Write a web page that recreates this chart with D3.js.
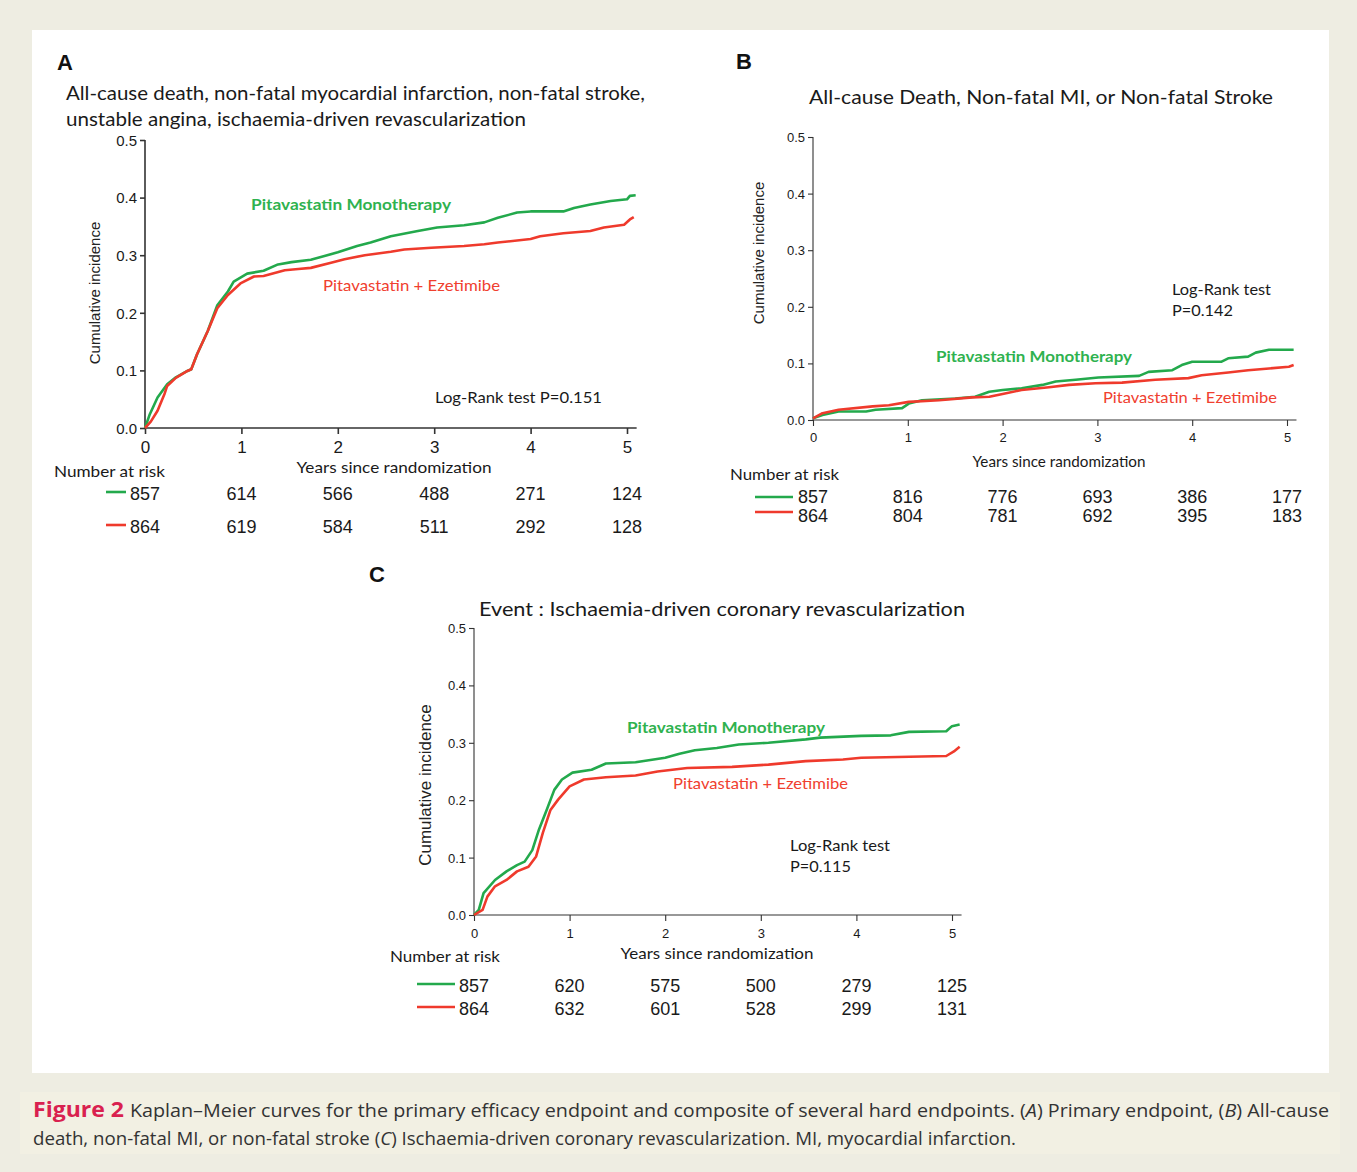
<!DOCTYPE html>
<html><head><meta charset="utf-8">
<script src="https://cdn.jsdelivr.net/npm/d3@7"></script>
<style>
html,body{margin:0;padding:0;background:#eeede2;}
svg{display:block;}
</style></head>
<body>
<svg id="fig" width="1357" height="1172"></svg>
<script>
// ---------------- DATA ----------------
const yearTicks = [0, 1, 2, 3, 4, 5];
const incidenceTicks = [0.0, 0.1, 0.2, 0.3, 0.4, 0.5];
const groupNames = ["Pitavastatin Monotherapy", "Pitavastatin + Ezetimibe"];

// Panel A: [years, cumulative incidence]
const monoA = [[0,0],[0.05,0.024],[0.13,0.053],[0.23,0.076],[0.32,0.088],[0.44,0.099],[0.48,0.102],[0.54,0.128],[0.65,0.168],[0.75,0.213],[0.86,0.237],[0.92,0.254],[1.06,0.268],[1.23,0.273],[1.38,0.284],[1.52,0.288],[1.72,0.292],[2.0,0.305],[2.2,0.316],[2.34,0.322],[2.55,0.333],[2.83,0.342],[3.03,0.348],[3.31,0.352],[3.52,0.357],[3.66,0.365],[3.86,0.374],[4.0,0.376],[4.34,0.376],[4.45,0.382],[4.62,0.388],[4.83,0.394],[5.0,0.397],[5.03,0.403],[5.09,0.404]];
const ezeA = [[0,0],[0.06,0.011],[0.13,0.03],[0.2,0.058],[0.23,0.073],[0.32,0.087],[0.44,0.099],[0.48,0.102],[0.54,0.128],[0.65,0.168],[0.75,0.208],[0.86,0.231],[0.99,0.251],[1.13,0.263],[1.23,0.264],[1.45,0.274],[1.59,0.276],[1.72,0.278],[1.93,0.287],[2.07,0.293],[2.28,0.3],[2.55,0.306],[2.69,0.31],[2.97,0.313],[3.31,0.316],[3.52,0.319],[3.66,0.322],[4.0,0.328],[4.1,0.333],[4.34,0.338],[4.62,0.342],[4.76,0.348],[4.97,0.353],[5.03,0.362],[5.07,0.366]];
const riskMonoA = [857, 614, 566, 488, 271, 124];
const riskEzeA = [864, 619, 584, 511, 292, 128];

// Panel B
const monoB = [[0,0.003],[0.1,0.009],[0.27,0.015],[0.56,0.015],[0.66,0.018],[0.94,0.021],[1.01,0.029],[1.15,0.035],[1.5,0.038],[1.71,0.041],[1.86,0.05],[2.0,0.053],[2.2,0.056],[2.42,0.062],[2.56,0.068],[2.77,0.071],[3.01,0.075],[3.44,0.078],[3.54,0.085],[3.79,0.088],[3.89,0.097],[4.0,0.103],[4.31,0.103],[4.38,0.109],[4.59,0.112],[4.67,0.119],[4.81,0.124],[5.07,0.124]];
const ezeB = [[0,0.003],[0.1,0.012],[0.27,0.018],[0.63,0.024],[0.8,0.026],[1.01,0.032],[1.33,0.035],[1.68,0.04],[1.86,0.041],[2.0,0.046],[2.2,0.053],[2.49,0.058],[2.7,0.062],[2.98,0.065],[3.26,0.066],[3.61,0.071],[3.96,0.074],[4.1,0.079],[4.38,0.084],[4.59,0.088],[4.81,0.091],[5.02,0.094],[5.07,0.097]];
const riskMonoB = [857, 816, 776, 693, 386, 177];
const riskEzeB = [864, 804, 781, 692, 395, 183];

// Panel C
const monoC = [[0,0],[0.05,0.009],[0.1,0.038],[0.22,0.061],[0.34,0.076],[0.45,0.087],[0.53,0.093],[0.61,0.113],[0.68,0.149],[0.76,0.183],[0.84,0.218],[0.92,0.236],[1.03,0.248],[1.23,0.253],[1.38,0.264],[1.69,0.266],[2.0,0.274],[2.15,0.281],[2.31,0.287],[2.54,0.291],[2.77,0.297],[3.08,0.3],[3.47,0.306],[3.62,0.309],[4.05,0.312],[4.36,0.313],[4.55,0.319],[4.94,0.32],[5.0,0.329],[5.08,0.332]];
const ezeC = [[0,0],[0.09,0.009],[0.14,0.032],[0.22,0.05],[0.34,0.061],[0.45,0.076],[0.57,0.084],[0.65,0.102],[0.72,0.143],[0.8,0.183],[0.88,0.201],[1.0,0.224],[1.15,0.236],[1.38,0.24],[1.69,0.243],[1.92,0.25],[2.23,0.256],[2.7,0.258],[3.08,0.262],[3.47,0.268],[3.86,0.271],[4.05,0.274],[4.94,0.277],[5.02,0.285],[5.08,0.293]];
const riskMonoC = [857, 620, 575, 500, 279, 125];
const riskEzeC = [864, 632, 601, 528, 299, 131];

// ---------------- DRAWING ----------------
const GREEN = "#23a94c", RED = "#ef3a2c", GREEN_T = "#2fb24f", RED_T = "#f0402f";
const calibri = "Lato, 'Open Sans', sans-serif";
const arial = "'Liberation Sans', Arial, sans-serif";
const svg = d3.select("#fig");

svg.append("rect").attr("x",0).attr("y",0).attr("width",1357).attr("height",1172).attr("fill","#eeede2");
svg.append("rect").attr("x",32).attr("y",30).attr("width",1297).attr("height",1043).attr("fill","#ffffff");
svg.append("rect").attr("x",20).attr("y",1092).attr("width",1320).attr("height",62).attr("fill","#f2f0e3");

function txt(g, x, y, s, o) {
  o = o || {};
  const t = g.append("text").attr("x", x).attr("y", y).text(s)
    .attr("font-family", o.family || calibri).attr("font-size", o.size || 16)
    .attr("fill", o.fill || "#1a1a1a").attr("text-anchor", o.anchor || "start");
  if (o.weight) t.attr("font-weight", o.weight);
  if (o.len) t.attr("textLength", o.len).attr("lengthAdjust", "spacingAndGlyphs");
  return t;
}

function panel(c) {
  const g = svg.append("g");
  const x = d3.scaleLinear().domain([0, 5]).range([c.x0, c.x5]);
  const y = d3.scaleLinear().domain([0, 0.5]).range([c.y0, c.y5]);
  const xEnd = x(5.1);
  // axes
  const ya = g.append("g").attr("transform", `translate(${c.x0},0)`)
    .call(d3.axisLeft(y).tickValues(incidenceTicks).tickFormat(d3.format(".1f")).tickSize(5).tickSizeOuter(0));
  const xa = g.append("g").attr("transform", `translate(0,${c.y0})`)
    .call(d3.axisBottom(x).tickValues(yearTicks).tickFormat(d3.format("d")).tickSize(6).tickSizeOuter(0));
  [ya, xa].forEach(a => {
    a.select(".domain").attr("stroke", "#333").attr("stroke-width", c.aw);
    a.selectAll(".tick line").attr("stroke", "#333").attr("stroke-width", c.aw);
    a.selectAll("text").attr("font-family", arial).attr("fill", "#1a1a1a");
  });
  ya.select(".domain").attr("d", `M0,${c.y0}V${c.y5}`);
  xa.select(".domain").attr("d", `M${c.x0},0H${xEnd}`);
  ya.selectAll("text").attr("font-size", c.ytSize).attr("x", -8).attr("dy", "0.35em");
  xa.selectAll("text").attr("font-size", c.xtSize).attr("y", c.xtDy).attr("dy", "0.71em");

  // curves
  const line = d3.line().x(d => x(d[0])).y(d => y(d[1])).curve(d3.curveLinear);
  g.append("path").datum(c.mono).attr("d", line).attr("fill", "none").attr("stroke", GREEN).attr("stroke-width", 2.6).attr("stroke-linejoin","round");
  g.append("path").datum(c.eze).attr("d", line).attr("fill", "none").attr("stroke", RED).attr("stroke-width", 2.6).attr("stroke-linejoin","round");

  // labels
  txt(g, c.letter[0], c.letter[1], c.name, {family: arial, size: 22, weight: "bold", fill: "#111"});
  c.title.forEach(t => txt(g, t[0], t[1], t[2], {size: c.titleSize, len: t[3], fill: "#1a1a1a"}));
  g.append("text").attr("transform", `translate(${c.ylab[0]},${c.ylab[1]}) rotate(-90)`)
    .attr("text-anchor", "middle").attr("font-family", arial).attr("font-size", c.ylab[2]).attr("fill", "#222").text("Cumulative incidence");
  txt(g, c.xlab[0], c.xlab[1], "Years since randomization", {anchor: "middle", size: c.xlab[2], len: c.xlab[3]});
  txt(g, c.monoLab[0], c.monoLab[1], groupNames[0], {size: c.labSize, weight: "bold", fill: GREEN_T, len: c.monoLab[2]});
  txt(g, c.ezeLab[0], c.ezeLab[1], groupNames[1], {size: c.labSize, fill: RED_T, len: c.ezeLab[2]});
  c.lr.forEach(t => txt(g, t[0], t[1], t[2], {size: c.lrSize, len: t[3]}));

  // number at risk
  txt(g, c.nar[0], c.nar[1], "Number at risk", {size: c.nar[2], len: c.nar[3]});
  [[c.riskMono, GREEN, c.rowY[0], c.legY[0]], [c.riskEze, RED, c.rowY[1], c.legY[1]]].forEach(r => {
    g.append("line").attr("x1", c.legX[0]).attr("x2", c.legX[1]).attr("y1", r[3]).attr("y2", r[3]).attr("stroke", r[1]).attr("stroke-width", 2.6);
    g.selectAll(null).data(r[0]).enter().append("text")
      .attr("x", (d, i) => x(yearTicks[i])).attr("y", r[2])
      .attr("text-anchor", "middle").attr("font-family", arial).attr("font-size", c.riskSize).attr("fill", "#1a1a1a")
      .text(d => d);
  });
}

panel({
  name: "A", letter: [57, 70], x0: 145, x5: 627, y0: 428, y5: 140, aw: 1.6,
  ytSize: 15, xtSize: 17, xtDy: 13,
  mono: monoA, eze: ezeA, riskMono: riskMonoA, riskEze: riskEzeA,
  title: [[66, 100, "All-cause death, non-fatal myocardial infarction, non-fatal stroke,", 579], [66, 126, "unstable angina, ischaemia-driven revascularization", 460]],
  titleSize: 19,
  ylab: [100, 293, 15], xlab: [394, 473, 16, 195],
  monoLab: [251, 210, 200], ezeLab: [323, 291, 177], labSize: 16,
  lr: [[435, 403, "Log-Rank test P=0.151", 167]], lrSize: 16,
  nar: [54, 477, 16, 111], legX: [106, 126], legY: [492, 525], rowY: [500, 533], riskSize: 18
});

panel({
  name: "B", letter: [736, 69], x0: 813, x5: 1287, y0: 420, y5: 137, aw: 1.1,
  ytSize: 13, xtSize: 13, xtDy: 13,
  mono: monoB, eze: ezeB, riskMono: riskMonoB, riskEze: riskEzeB,
  title: [[809, 104, "All-cause Death, Non-fatal MI, or Non-fatal Stroke", 464]],
  titleSize: 20,
  ylab: [764, 253, 15], xlab: [1059, 467, 15, 173],
  monoLab: [936, 362, 196], ezeLab: [1103, 403, 174], labSize: 16,
  lr: [[1172, 295, "Log-Rank test", 99], [1172, 316, "P=0.142", 61]], lrSize: 16,
  nar: [730, 480, 16, 109], legX: [755, 793], legY: [497, 512], rowY: [503, 522], riskSize: 18
});

panel({
  name: "C", letter: [369, 582], x0: 474, x5: 952, y0: 915, y5: 628, aw: 1.1,
  ytSize: 13, xtSize: 13, xtDy: 14,
  mono: monoC, eze: ezeC, riskMono: riskMonoC, riskEze: riskEzeC,
  title: [[479, 616, "Event : Ischaemia-driven coronary revascularization", 486]],
  titleSize: 20,
  ylab: [431, 785, 17], xlab: [717, 959, 16, 193],
  monoLab: [627, 733, 198], ezeLab: [673, 789, 175], labSize: 16,
  lr: [[790, 851, "Log-Rank test", 100], [790, 872, "P=0.115", 61]], lrSize: 16,
  nar: [390, 962, 16, 110], legX: [417, 455], legY: [984, 1007], rowY: [992, 1015], riskSize: 18
});

// caption
const cap = svg.append("g");
const c1 = cap.append("text").attr("x", 33).attr("y", 1117).attr("font-family", "'Open Sans', sans-serif").attr("font-size", 18).attr("fill", "#333");
c1.append("tspan").attr("font-weight", "bold").attr("font-size", 21).attr("fill", "#d9214f").text("Figure 2 ");
c1.append("tspan").text("Kaplan–Meier curves for the primary efficacy endpoint and composite of several hard endpoints. (");
c1.append("tspan").attr("font-style", "italic").text("A");
c1.append("tspan").text(") Primary endpoint, (");
c1.append("tspan").attr("font-style", "italic").text("B");
c1.append("tspan").text(") All-cause");
c1.attr("textLength", 1296).attr("lengthAdjust", "spacingAndGlyphs");
const c2 = cap.append("text").attr("x", 33).attr("y", 1145).attr("font-family", "'Open Sans', sans-serif").attr("font-size", 18).attr("fill", "#333");
c2.append("tspan").text("death, non-fatal MI, or non-fatal stroke (");
c2.append("tspan").attr("font-style", "italic").text("C");
c2.append("tspan").text(") Ischaemia-driven coronary revascularization. MI, myocardial infarction.");
c2.attr("textLength", 983).attr("lengthAdjust", "spacingAndGlyphs");
</script>
</body></html>
